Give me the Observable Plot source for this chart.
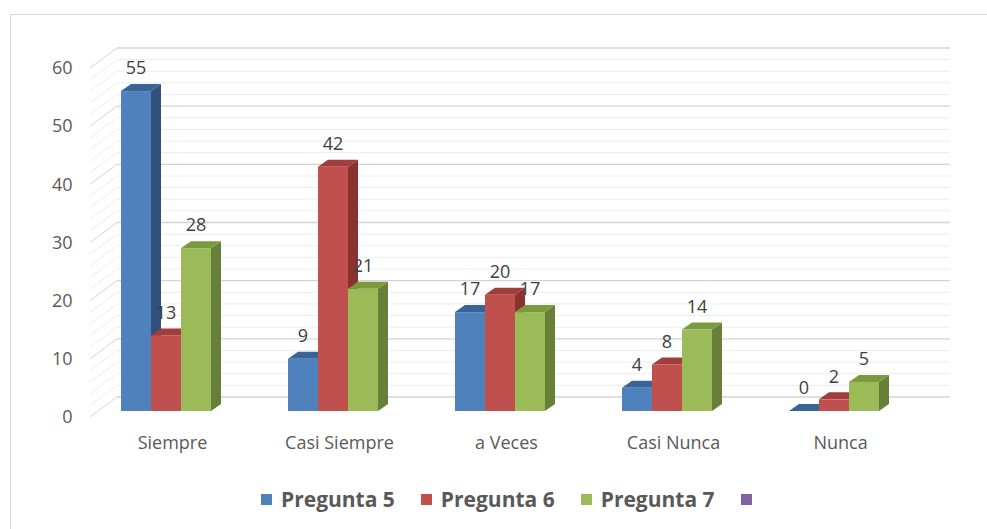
<!DOCTYPE html>
<html>
<head>
<meta charset="utf-8">
<script src="https://cdn.jsdelivr.net/npm/d3@7"></script>
<script src="https://cdn.jsdelivr.net/npm/@observablehq/plot@0.6"></script>
<style>
  html, body { margin: 0; padding: 0; background: #fff; }
  body { width: 987px; height: 529px; overflow: hidden; position: relative; font-family: "Open Sans", sans-serif; }
  #frame { position: absolute; left: 10px; top: 14px; width: 1100px; height: 700px; border: 1.5px solid #d9d9d9; box-sizing: border-box; }
  #chart { position: absolute; left: 0; top: 0; }
  #legend { position: absolute; left: 261px; top: 487px; display: flex; align-items: center; gap: 26px; height: 24px; }
  .item { display: flex; align-items: center; gap: 9px; font-weight: 700; font-size: 21px; color: #595959; line-height: 24px; }
  .sw { width: 11px; height: 11px; display: inline-block; }
</style>
</head>
<body>
<div id="frame"></div>
<div id="chart"></div>
<div id="legend"></div>
<script>
// ---- data ----
const categories = ["Siempre", "Casi Siempre", "a Veces", "Casi Nunca", "Nunca"];
const seriesNames = ["Pregunta 5", "Pregunta 6", "Pregunta 7"];
const pregunta5 = [55, 9, 17, 4, 0];
const pregunta6 = [13, 42, 20, 8, 2];
const pregunta7 = [28, 21, 17, 14, 5];
const yTicks = [0, 10, 20, 30, 40, 50, 60];
const gridValues = d3.range(0, 61, 2);
const legendNames = ["Pregunta 5", "Pregunta 6", "Pregunta 7", ""];

// ---- styles ----
const frontColors = ["#4f81bd", "#c0504d", "#9bbb59", "#8064a2"];
const topColors = ["#3b6496", "#a03e3b", "#7b9a40"];
const sideColors = ["#31507a", "#893230", "#66803a"];

const seriesValues = [pregunta5, pregunta6, pregunta7];
const rows = categories.flatMap((c, ci) =>
  seriesNames.map((s, si) => ({category: c, series: s, si, value: seriesValues[si][ci]}))
);

// 3D projection offsets (pixels)
const WALL = [27, -20];   // front plane -> back wall
const BARF = [8, -6];     // front plane -> bar front face
const BARD = [10, -7];    // bar front -> bar back

function scene(index, scales, values, dims) {
  const x = scales.x, y = scales.y;
  const bw = typeof x.bandwidth === "function" ? x.bandwidth() : x.bandwidth;
  const g = d3.create("svg:g");
  const left = dims.marginLeft + 15;
  const right = dims.width - dims.marginRight + 13;
  // walls
  for (const v of gridValues) {
    const yy = y(v);
    const major = v % 10 === 0;
    const col = major ? "#d4d4d4" : "#ececec";
    g.append("line").attr("x1", left).attr("y1", yy).attr("x2", left + WALL[0]).attr("y2", yy + WALL[1])
      .attr("stroke", col).attr("stroke-width", 1);
    g.append("line").attr("x1", left + WALL[0]).attr("y1", yy + WALL[1]).attr("x2", right + WALL[0]).attr("y2", yy + WALL[1])
      .attr("stroke", col).attr("stroke-width", major ? 1.3 : 1);
  }
  // bars
  const w = bw / 3;
  const labels = [];
  for (const r of rows) {
    const x0 = x(r.category) + r.si * w + BARF[0];
    const x1 = x0 + w;
    const yt = y(r.value) + BARF[1];
    const yb = y(0) + BARF[1];
    const [dx, dy] = BARD;
    g.append("polygon")
      .attr("points", [[x1, yt], [x1 + dx, yt + dy], [x1 + dx, yb + dy], [x1, yb]].join(" "))
      .attr("fill", sideColors[r.si]);
    g.append("polygon")
      .attr("points", [[x0, yt], [x0 + dx, yt + dy], [x1 + dx, yt + dy], [x1, yt]].join(" "))
      .attr("fill", topColors[r.si]);
    if (yb - yt > 0)
      g.append("rect").attr("x", x0).attr("y", yt).attr("width", w).attr("height", yb - yt)
        .attr("fill", frontColors[r.si]);
    labels.push({x: (x0 + x1) / 2, y: yt + dy - 16, t: String(r.value)});
  }
  for (const l of labels) {
    g.append("text").attr("x", l.x).attr("y", l.y).attr("dy", "0.35em")
      .attr("text-anchor", "middle").attr("fill", "#404040")
      .attr("font-size", 18).attr("font-family", "'Open Sans', sans-serif")
      .text(l.t);
  }
  return g.node();
}

const chart = Plot.plot({
  width: 987,
  height: 470,
  marginLeft: 75,
  marginRight: 77,
  marginTop: 68,
  marginBottom: 53,
  style: {fontFamily: "'Open Sans', sans-serif", background: "transparent"},
  x: {type: "band", domain: categories, paddingInner: 0.461, paddingOuter: 0.23, align: 0.5},
  y: {domain: [0, 60]},
  marks: [
    scene,
    Plot.axisY(yTicks, {anchor: "left", tickSize: 0, tickPadding: 3, fontSize: 18, color: "#595959", label: null}),
    Plot.axisX(categories, {anchor: "bottom", tickSize: 0, tickPadding: 19, fontSize: 18, color: "#595959", dx: 14, label: null})
  ]
});
document.getElementById("chart").appendChild(chart);

const legend = document.getElementById("legend");
legendNames.forEach((name, i) => {
  const it = document.createElement("div");
  it.className = "item";
  const sw = document.createElement("span");
  sw.className = "sw";
  sw.style.background = frontColors[i];
  it.appendChild(sw);
  if (name) {
    const t = document.createElement("span");
    t.textContent = name;
    it.appendChild(t);
  }
  legend.appendChild(it);
});
</script>
</body>
</html>
